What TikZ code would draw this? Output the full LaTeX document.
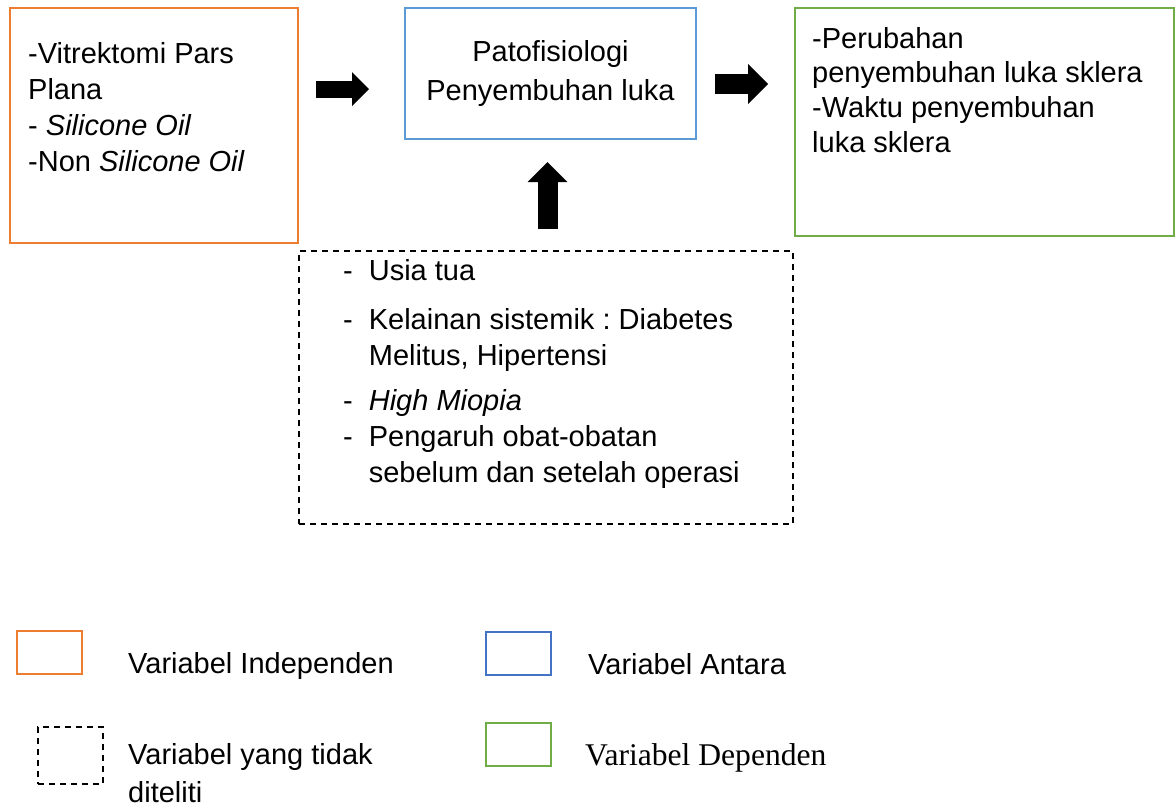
\documentclass[tikz,border=0pt]{standalone}
\usepackage{fontspec}
\setmainfont{Liberation Sans}
\newfontfamily\serifleg{Liberation Serif}
\usepackage{xcolor}
\usetikzlibrary{arrows.meta, positioning}
\frenchspacing

\definecolor{indepcol}{HTML}{ED7D31}
\definecolor{antaracol}{HTML}{5B9BD5}
\definecolor{antaraleg}{HTML}{4472C4}
\definecolor{depcol}{HTML}{70AD47}

\begin{document}
\begin{tikzpicture}[
        x=1pt, y=-1pt,
        % Box styles
        varbox/.style={rectangle, line width=2.2pt, anchor=north west, inner sep=0pt, outer sep=0pt},
        indepbox/.style={varbox, draw=indepcol},
        antarabox/.style={varbox, draw=antaracol, align=center, font=\fontsize{29}{39}\selectfont},
        depbox/.style={varbox, draw=depcol},
        lainbox/.style={varbox, draw=black, dash pattern=on 6pt off 5pt},
        legbox/.style={varbox, line width=1.8pt, minimum width=65pt},
        % Text styles
        txt/.style={anchor=base west, inner sep=0pt, font=\fontsize{29}{36}\selectfont},
        % Block arrows
        bigarrow/.style={line width=20pt, -{Triangle[length=20pt, width=40pt, line width=0pt]}},
        smallarrow/.style={line width=17pt, -{Triangle[length=17pt, width=34pt, line width=0pt]}}
    ]
        \useasboundingbox (0,0) rectangle (1176,807);

        % Main boxes
        \node[indepbox, minimum width=288pt, minimum height=235pt] (indep) at (10,8) {};
        \node[antarabox, minimum width=291pt, minimum height=131pt] (antara) at (405,8) {Patofisiologi\\Penyembuhan luka};
        \node[depbox, minimum width=379pt, minimum height=228pt] (dep) at (795,8) {};
        \node[lainbox, minimum width=494pt, minimum height=273pt] (lain) at (299,251) {};

        % Box texts
        \node[txt, font=\fontsize{29}{36.3}\selectfont] (indeptxt) at ([shift={(18,55)}]indep.north west)
            {\begin{tabular}[t]{@{}l@{}}-Vitrektomi Pars\\Plana\\- \textit{Silicone Oil}\\-Non \textit{Silicone Oil}\end{tabular}};
        \node[txt, font=\fontsize{29}{34.7}\selectfont] (deptxt) at ([shift={(17,40)}]dep.north west)
            {\begin{tabular}[t]{@{}l@{}}-Perubahan\\penyembuhan luka sklera\\-Waktu penyembuhan\\luka sklera\end{tabular}};
        \node[txt] (laintxt) at ([shift={(44,29)}]lain.north west)
            {\begin{tabular}[t]{@{}l@{\hspace{16pt}}l@{}}
                - & Usia tua\\[13pt]
                - & Kelainan sistemik : Diabetes\\
                  & Melitus, Hipertensi\\[9pt]
                - & \textit{High Miopia}\\
                - & Pengaruh obat-obatan\\
                  & sebelum dan setelah operasi
             \end{tabular}};

        % Block arrows
        \coordinate (a1s) at (316,89);
        \coordinate (a1e) at (369,89);
        \coordinate (a2s) at (715,84);
        \coordinate (a2e) at (768,84);
        \coordinate (a3s) at (547.5,229);
        \coordinate (a3e) at (547.5,162);
        \draw[smallarrow] (a1s) -- (a1e);
        \draw[bigarrow] (a2s) -- (a2e);
        \draw[bigarrow] (a3s) -- (a3e);

        % Legend
        \node[legbox, draw=indepcol, minimum height=43pt] (legindep) at (17,631) {};
        \node[legbox, draw=antaraleg, minimum height=43pt] (legantara) at (486,632) {};
        \node[legbox, draw=black, dash pattern=on 6pt off 5pt, minimum height=57pt] (leglain) at (38,727) {};
        \node[legbox, draw=depcol, minimum height=43pt] (legdep) at (486,723) {};

        \node[txt] (legindeptxt) at ([shift={(46,-1)}]legindep.south east) {Variabel Independen};
        \node[txt] (legantaratxt) at ([shift={(37,-1)}]legantara.south east) {Variabel Antara};
        \node[txt, font=\fontsize{29}{38.5}\selectfont] (leglaintxt) at ([shift={(25,-20)}]leglain.south east)
            {\begin{tabular}[t]{@{}l@{}}Variabel yang tidak\\diteliti\end{tabular}};
        \node[txt, font=\serifleg\fontsize{31.6}{36}\selectfont] (legdeptxt) at ([shift={(34,-1)}]legdep.south east) {Variabel Dependen};
    \end{tikzpicture}
\end{document}
